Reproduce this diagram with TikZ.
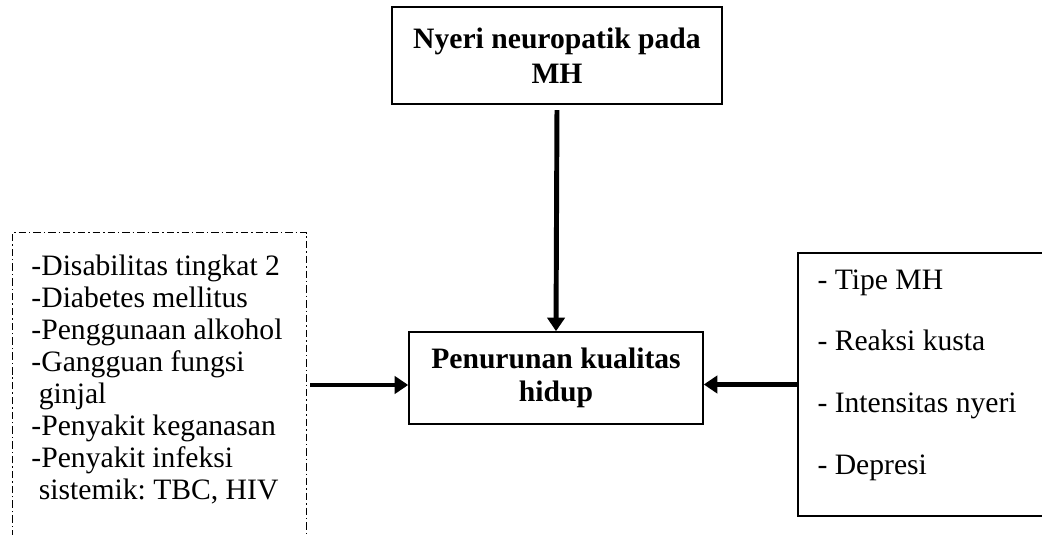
\documentclass[tikz,border=0pt]{standalone}
\usepackage{fontspec}
\setmainfont{Liberation Serif}
\usetikzlibrary{arrows.meta}
\frenchspacing
\begin{document}
\begin{tikzpicture}[x=0.405pt,y=-0.405pt]
    \tikzstyle{arrow} = [line width=2pt, -{Triangle[length=5.5pt,width=7pt]}]
    \tikzstyle{box} = [draw=black, line width=0.6pt, inner sep=0pt, align=center]
    \tikzstyle{dashdot} = [line width=0.5pt, dash pattern=on 3pt off 1.2pt on 0.6pt off 1.2pt]
    \tikzstyle{list} = [anchor=north west, inner sep=0pt, align=left]
    \useasboundingbox (0,0) rectangle (1042,535);
    \node[box, line width=0.9pt, minimum width=133.7pt, minimum height=39.3pt, font=\bfseries\fontsize{12}{14}\selectfont](nyeri) at (557,55.5){Nyeri neuropatik pada\\MH};
    \node[box, minimum width=119.1pt, minimum height=37.3pt, font=\bfseries\fontsize{12}{13.5}\selectfont](kualitas) at (556,378){Penurunan kualitas\\hidup};
    \node[minimum width=118.7pt, minimum height=123.1pt, inner sep=0pt](faktor) at (159.5,385){};
    \node[list, font=\fontsize{12}{13}\selectfont](faktorteks) at (31,254){-Disabilitas tingkat 2\\-Diabetes mellitus\\-Penggunaan alkohol\\-Gangguan fungsi\\\ ginjal\\-Penyakit keganasan\\-Penyakit infeksi\\\ sistemik: TBC, HIV};
    \node[box, minimum width=102.1pt, minimum height=106.5pt](klinis) at (924,384.5){};
    \node[list, font=\fontsize{12}{25}\selectfont](klinisteks) at (817,269){- Tipe MH\\- Reaksi kusta\\- Intensitas nyeri\\- Depresi};

    \draw[dashdot] (faktor.south west) |- (faktor.north east) -- (faktor.south east);
    \draw[arrow, shorten <=2pt] (nyeri.south) -- (kualitas.north);
    \draw[arrow, shorten <=1.6pt] (faktor.east) -- (faktor.east -| kualitas.west);
    \draw[arrow] (klinis.west) -- (klinis.west -| kualitas.east);
\end{tikzpicture}
\end{document}
